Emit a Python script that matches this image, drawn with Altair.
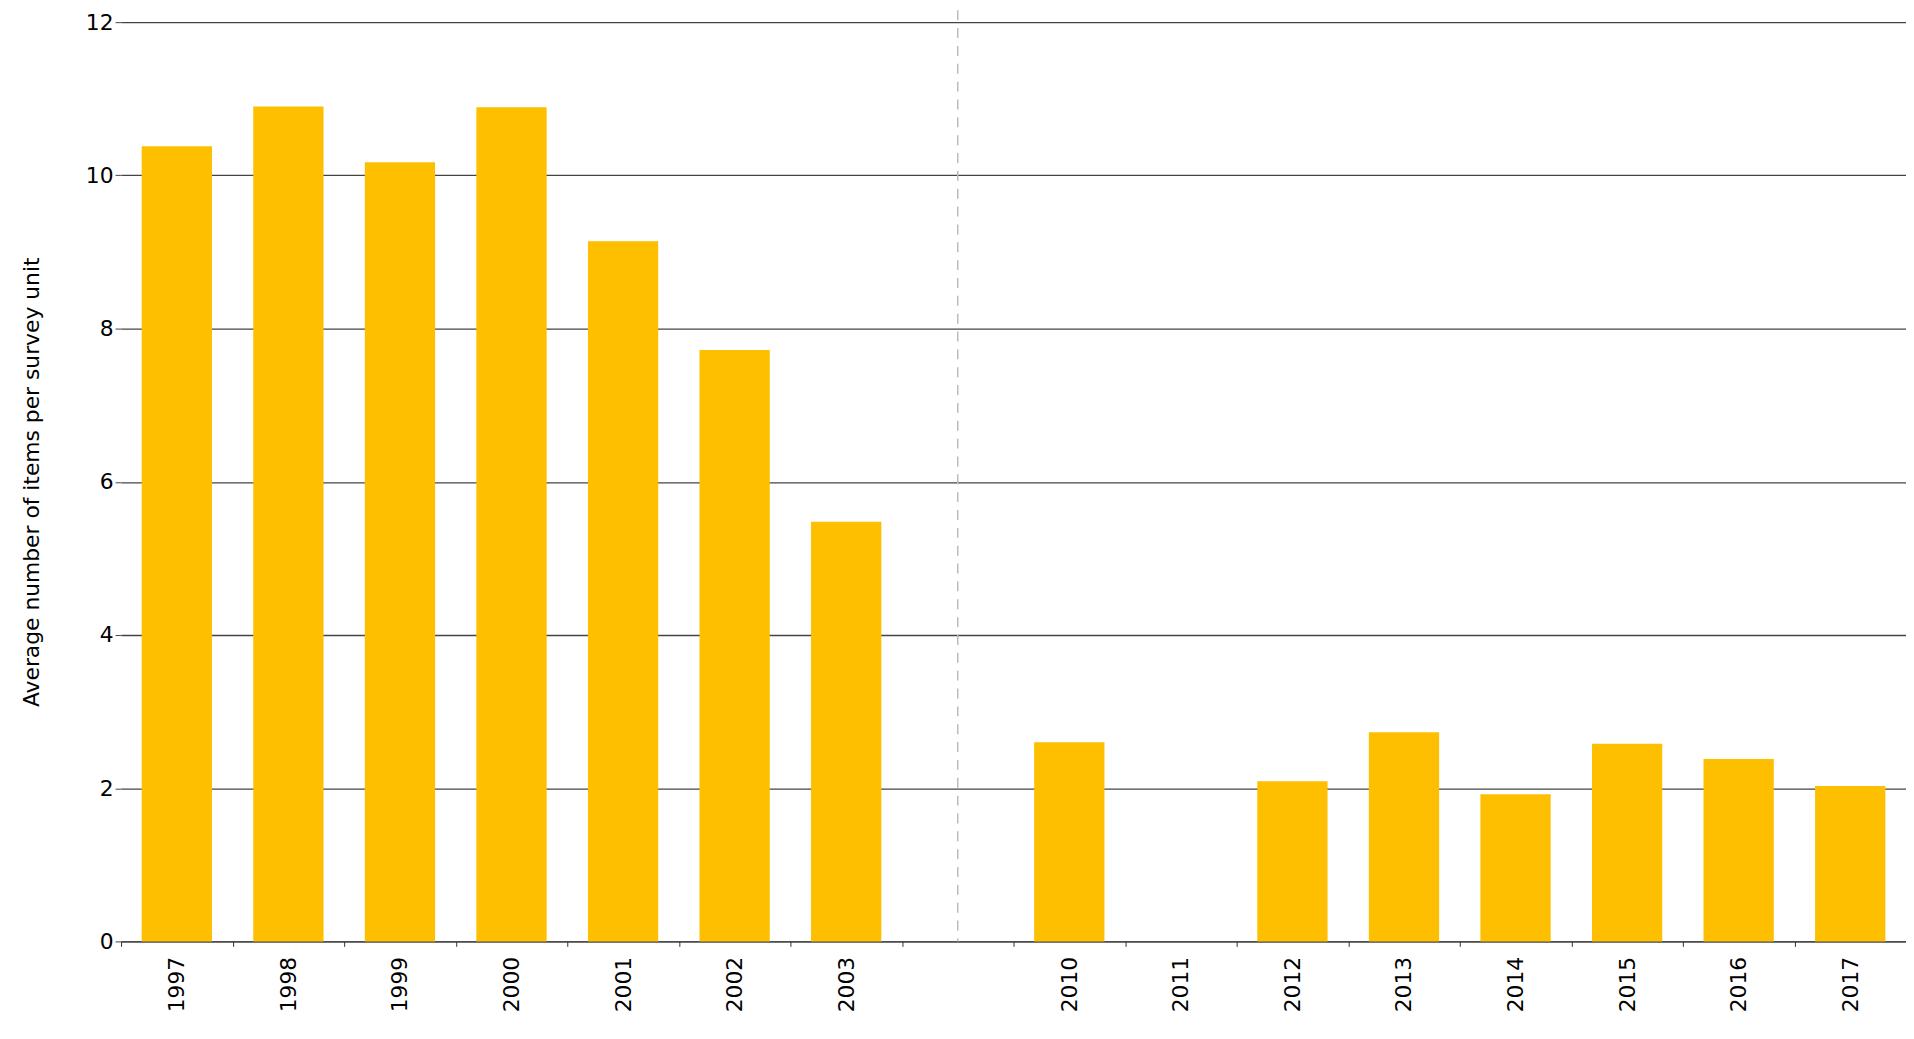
import pandas as pd
import altair as alt

years = ["1997", "1998", "1999", "2000", "2001", "2002", "2003", "gap",
         "2010", "2011", "2012", "2013", "2014", "2015", "2016", "2017"]
values = [10.38, 10.90, 10.17, 10.89, 9.14, 7.72, 5.48, None,
          2.60, None, 2.09, 2.73, 1.92, 2.58, 2.38, 2.03]

df = pd.DataFrame({"year": years, "value": values})
font = "DejaVu Sans"

x = alt.X("year:N", sort=years, title=None,
          scale=alt.Scale(paddingInner=0.37, paddingOuter=0.185),
          axis=alt.Axis(labelAngle=-90, labelExpr="datum.value == 'gap' ? '' : datum.value",
                        labelFontSize=22, labelFont=font, labelColor="#000",
                        domainColor="#333", tickColor="#333",
                        tickOffset=-56, labelOffset=56,
                        labelPadding=10, labelBaseline="middle", labelAlign="right"))

bars = alt.Chart(df).mark_bar(color="#FDBF00").encode(
    x=x,
    y=alt.Y("value:Q", title="Average number of items per survey unit",
            scale=alt.Scale(domain=[0, 12]),
            axis=alt.Axis(values=[0, 2, 4, 6, 8, 10, 12], domain=False,
                          gridColor="#444", tickColor="#444", tickSize=6,
                          labelFontSize=22, labelFont=font, labelColor="#000",
                          titleFontSize=22, titleFont=font, titleFontWeight="normal",
                          titleColor="#000", titlePadding=42)),
)

divider = alt.Chart(pd.DataFrame({"year": ["gap"]})).mark_rule(
    color="#bbb", strokeDash=[10, 8], strokeWidth=1.5
).encode(x=alt.X("year:N", sort=years), y=alt.value(-30), y2=alt.value(927))

chart = alt.layer(bars, divider).properties(
    width=1800, height=927,
    autosize=alt.AutoSizeParams(type="none"),
    padding={"left": 114, "top": 10, "right": 0, "bottom": 80},
).configure_view(stroke=None).configure_axisY(gridWidth=1.3)

chart.save("out.html", embed_options={"renderer": "svg", "actions": False})
